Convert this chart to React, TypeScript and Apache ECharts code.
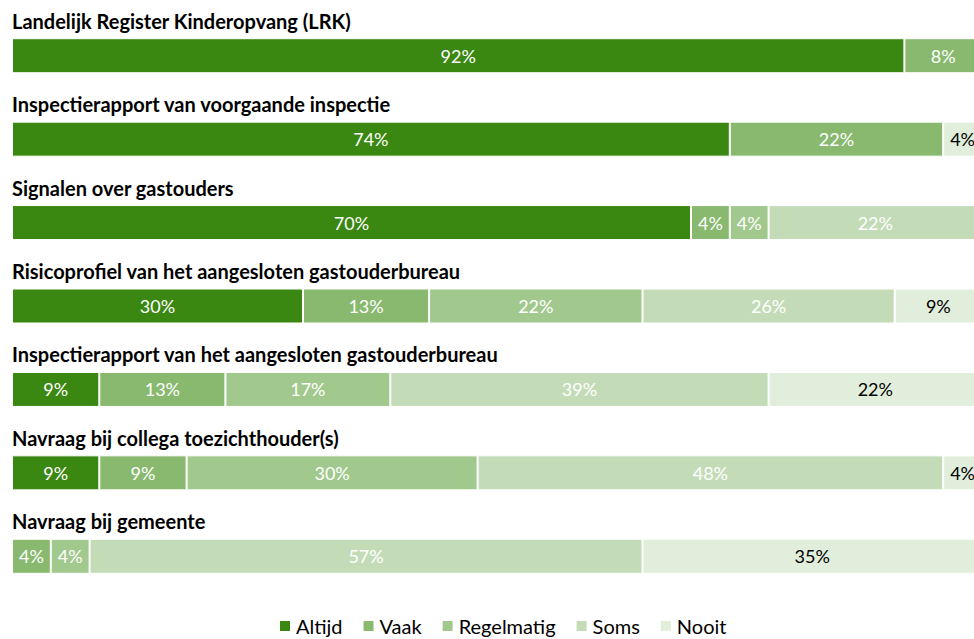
import React, { useEffect, useRef } from "react";
import * as echarts from "echarts";

const categories = [
  "Landelijk Register Kinderopvang (LRK)",
  "Inspectierapport van voorgaande inspectie",
  "Signalen over gastouders",
  "Risicoprofiel van het aangesloten gastouderbureau",
  "Inspectierapport van het aangesloten gastouderbureau",
  "Navraag bij collega toezichthouder(s)",
  "Navraag bij gemeente",
];

const seriesNames = ["Altijd", "Vaak", "Regelmatig", "Soms", "Nooit"];

const altijd = [92, 74, 70, 30, 9, 9, 0];
const vaak = [8, 22, 4, 13, 13, 9, 4];
const regelmatig = [0, 0, 4, 22, 17, 30, 4];
const soms = [0, 0, 22, 26, 39, 48, 57];
const nooit = [0, 4, 0, 9, 22, 4, 35];

const seriesValues = [altijd, vaak, regelmatig, soms, nooit];
const colors = ["#3a8711", "#88b96e", "#a1c88d", "#c3dcb7", "#e1eedb"];
const labelColors = ["#ffffff", "#ffffff", "#ffffff", "#ffffff", "#000000"];

const FONT = "Lato, 'Noto Sans', sans-serif";

export default function App() {
  const ref = useRef<HTMLDivElement>(null);
  useEffect(() => {
    document.body.style.margin = "0";
    if (!ref.current) return;
    const chart = echarts.init(ref.current, undefined, { renderer: "svg" });
    chart.setOption({
      animation: false,
      backgroundColor: "#ffffff",
      textStyle: { fontFamily: FONT },
      grid: { left: 12, right: 0, top: 14, bottom: 41, containLabel: false },
      legend: {
        top: 616,
        left: 278,
        padding: 0,
        itemWidth: 12,
        itemHeight: 12,
        itemGap: 19,
        icon: "rect",
        data: seriesNames,
        textStyle: { fontSize: 20, lineHeight: 20, color: "#000", fontFamily: FONT, padding: [0, 0, 0, 0] },
      },
      xAxis: {
        type: "value",
        min: 0,
        max: 100,
        show: false,
      },
      yAxis: {
        type: "category",
        data: categories,
        inverse: true,
        axisLine: { show: false },
        axisTick: { show: false },
        splitLine: { show: false },
        axisLabel: {
          inside: true,
          align: "left",
          verticalAlign: "bottom",
          margin: 0,
          padding: [0, 0, 25, 0],
          fontSize: 20,
          fontWeight: "bold",
          color: "#000",
          fontFamily: FONT,
        },
        z: 10,
      },
      series: seriesNames.map((name, i) => ({
        name,
        type: "bar",
        stack: "total",
        barWidth: 35,
        itemStyle: { color: colors[i], borderColor: "#ffffff", borderWidth: 1 },
        label: {
          show: true,
          position: "inside",
          color: labelColors[i],
          fontSize: 18,
          fontFamily: FONT,
          formatter: (p: any) => (p.value ? p.value + "%" : ""),
        },
        data: seriesValues[i].map((v) => (v === 0 ? null : v)),
      })),
    });
    return () => chart.dispose();
  }, []);
  return (
    <div style={{ width: 974, height: 639, overflow: "hidden", position: "relative" }}>
      <div ref={ref} style={{ width: 982, height: 639 }} />
    </div>
  );
}
